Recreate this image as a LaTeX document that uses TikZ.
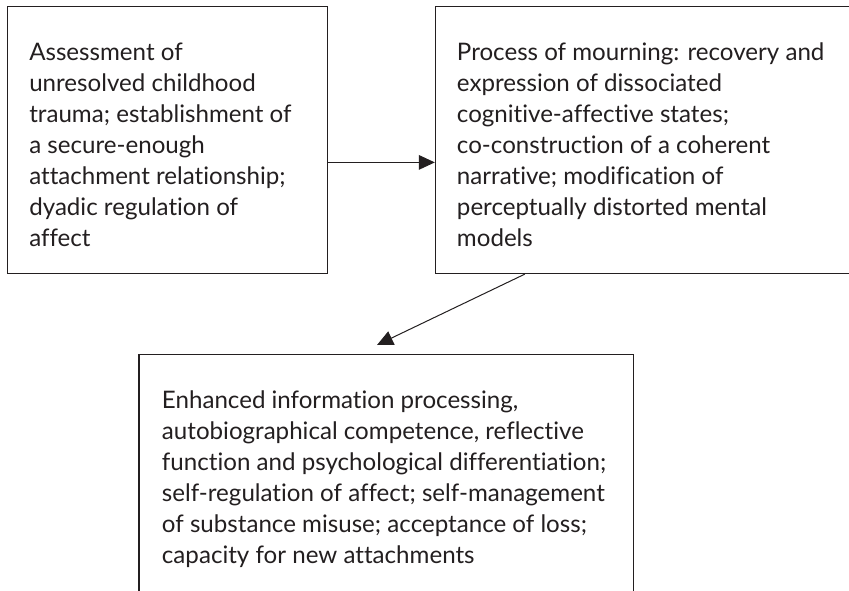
\documentclass[tikz,border=0pt]{standalone}
\usepackage{fontspec}
\setmainfont{Lato}[Ligatures={NoCommon,NoDiscretionary}]
\usetikzlibrary{arrows.meta}
\definecolor{ink}{HTML}{231F20}
\newlength\reflen
\begin{document}
\settowidth\reflen{\rmfamily\fontsize{10pt}{12pt}\selectfont function and psychological differentiation;}%
\pgfmathsetmacro\fsz{10*333.2/\reflen}%
\def\boxtext#1{\parbox[t]{420pt}{\rmfamily\raggedright\fontsize{\fsz pt}{23.25pt}\selectfont #1}}%
\begin{tikzpicture}[x=0.75pt,y=-0.75pt,
  box/.style={draw=ink, line width=1pt, anchor=north west, inner sep=0pt},
  txt/.style={anchor=base west, inner sep=0pt, text=ink},
  arr/.style={draw=ink, line width=0.75pt, -{Triangle[length=12pt,width=11pt]}}]
\useasboundingbox (0,0) rectangle (849,590);
\clip (0,0) rectangle (849,590);
\fill[white] (0,0) rectangle (849,590);
% boxes
\node[box, minimum width=240.4pt, minimum height=200.4pt] (b1) at (6.5,5.6) {};
\node[box, minimum width=315.2pt, minimum height=200.4pt] (b2) at (434.8,5.6) {};
\node[box, minimum width=370.8pt, minimum height=184.8pt] (b3) at (138.3,353.6) {};
% texts
\node[txt] (t1) at (29,60) {\boxtext{Assessment of\\ unresolved childhood\\ trauma; establishment of\\ a secure-enough\\ attachment relationship;\\ dyadic regulation of\\ affect}};
\node[txt] (t2) at (456.7,60) {\boxtext{Process of mourning: recovery and\\ expression of dissociated\\ cognitive-affective states;\\ co-construction of a coherent\\ narrative; modification of\\ perceptually distorted mental\\ models}};
\node[txt] (t3) at (161.7,408.5) {\boxtext{Enhanced information processing,\\ autobiographical competence, reflective\\ function and psychological differentiation;\\ self-regulation of affect; self-management\\ of substance misuse; acceptance of loss;\\ capacity for new attachments}};
% connectors
\coordinate (tip) at (377,345);
\draw[arr] ([yshift=-16.9pt]b1.east) -- ([yshift=-16.9pt]b2.west);
\draw[arr] ([xshift=67.5pt]b2.south west) -- (tip);
\end{tikzpicture}
\end{document}
